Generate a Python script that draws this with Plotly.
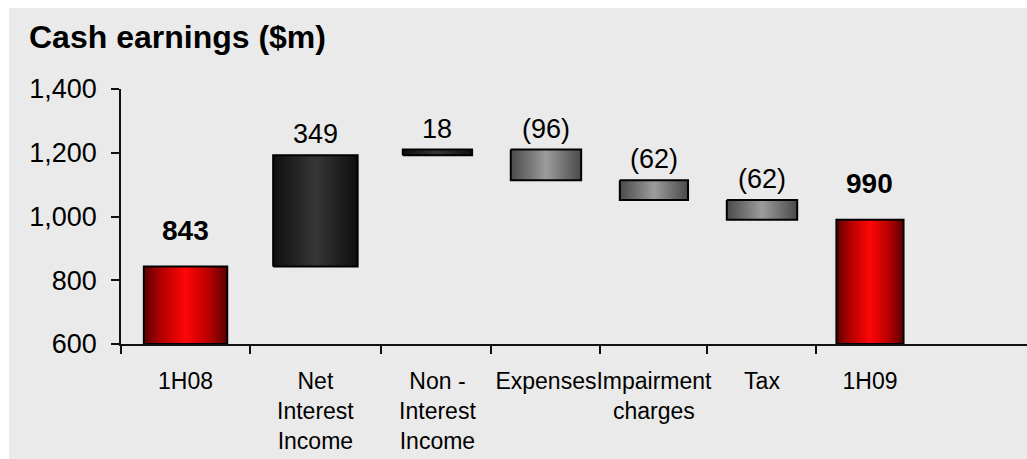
import plotly.graph_objects as go

# ---- data -------------------------------------------------------------
categories = ["1H08", "Net<br>Interest<br>Income", "Non -<br>Interest<br>Income",
              "Expenses", "Impairment<br>charges", "Tax", "1H09"]
start_value = 843
deltas = [349, 18, -96, -62, -62]
end_value = 990
y_ticks = [600, 800, 1000, 1200, 1400]

# ---- layout constants (axis units) ------------------------------------
slot_x = [0.596, 1.795, 2.922, 3.924, 4.921, 5.919, 6.916]
bar_w = [0.77, 0.78, 0.64, 0.65, 0.63, 0.65, 0.62]
boundaries = [0.0, 1.191, 2.401, 3.416, 4.423, 5.411, 6.417]
x_range = [0.0, 8.366]
y_floor = 600

FONT = "Liberation Sans, Arial, sans-serif"
RED = [[0, "#5c0000"], [0.22, "#b80000"], [0.5, "#ff0606"], [0.78, "#b80000"], [1, "#5c0000"]]
DARK = [[0, "#0e0e0e"], [0.5, "#363636"], [1, "#0e0e0e"]]
GREY = [[0, "#4a4a4a"], [0.5, "#9c9c9c"], [1, "#4a4a4a"]]

# bottoms / tops of every column, built from the values above
bottoms, tops, labels, bold, scales = [], [], [], [], []
bottoms.append(y_floor); tops.append(start_value)
labels.append(f"{start_value:,}"); bold.append(True); scales.append(RED)
level = start_value
for d in deltas:
    bottoms.append(level); tops.append(level + d)
    labels.append(f"{d:,}" if d >= 0 else f"({-d:,})")
    bold.append(False); scales.append(DARK if d >= 0 else GREY)
    level += d
bottoms.append(y_floor); tops.append(end_value)
labels.append(f"{end_value:,}"); bold.append(True); scales.append(RED)

fig = go.Figure()
for i in range(len(categories)):
    x0 = slot_x[i] - bar_w[i] / 2
    x1 = slot_x[i] + bar_w[i] / 2
    y0, y1 = bottoms[i], tops[i]
    fig.add_trace(go.Scatter(
        x=[x0, x1, x1, x0, x0], y=[y0, y0, y1, y1, y0],
        mode="lines", fill="toself",
        fillgradient=dict(type="horizontal", colorscale=scales[i]),
        line=dict(color="#000000", width=2),
        hoverinfo="skip", showlegend=False, cliponaxis=False,
    ))

# value labels above each column
for i in range(len(categories)):
    top = max(bottoms[i], tops[i])
    fig.add_annotation(
        x=slot_x[i], y=top, xref="x", yref="y",
        text=f"<b>{labels[i]}</b>" if bold[i] else labels[i],
        showarrow=False, yanchor="middle",
        yshift=36 if bold[i] else 21,
        font=dict(family=FONT, size=28 if bold[i] else 27, color="#000000"),
    )

# invisible trace so the label axis is drawn
fig.add_trace(go.Scatter(x=slot_x, y=[None] * len(slot_x), xaxis="x2",
                         mode="markers", showlegend=False, hoverinfo="skip"))

W, H = 1027, 459
ML, MR, MT, MB = 121, 0, 89, 115
pw, ph = W - ML - MR, H - MT - MB

fig.update_layout(
    template="none",
    width=W, height=H,
    margin=dict(l=ML, r=MR, t=MT, b=MB, pad=0),
    paper_bgcolor="#eaeaea", plot_bgcolor="#eaeaea",
    font=dict(family=FONT, color="#000000"),
    showlegend=False,
    title=dict(text="<b>Cash earnings ($m)</b>", xref="container", yref="container",
               x=29 / W, xanchor="left", y=1 - 37 / H, yanchor="middle",
               font=dict(family=FONT, size=32, color="#000000")),
    xaxis=dict(range=x_range, tickmode="array", tickvals=boundaries,
               ticktext=[""] * len(boundaries), ticks="outside", ticklen=8,
               tickwidth=1.5, tickcolor="#111111", showline=True, linewidth=1.5,
               linecolor="#111111", showgrid=False, zeroline=False,
               automargin=False, fixedrange=True),
    xaxis2=dict(range=x_range, overlaying="x", side="bottom", anchor="y",
                tickmode="array", tickvals=slot_x, ticktext=categories,
                tickangle=0, ticks="", showline=False, showgrid=False, zeroline=False,
                tickfont=dict(family=FONT, size=23, color="#000000"),
                ticklabelstandoff=21, automargin=False),
    yaxis=dict(range=[y_ticks[0], y_ticks[-1]], tickmode="array", tickvals=y_ticks,
               tickformat=",", ticks="outside", ticklen=8, tickwidth=1.5,
               tickcolor="#111111", showline=True, linewidth=1.5, linecolor="#111111",
               showgrid=False, zeroline=False, ticklabelstandoff=9,
               tickfont=dict(family=FONT, size=27, color="#000000"),
               automargin=False, fixedrange=True),
    shapes=[
        # white frame strips along the top and left edges of the page
        dict(type="rect", xref="paper", yref="paper", layer="below",
             x0=-ML / pw, x1=1, y0=1 + (MT - 8) / ph, y1=1 + MT / ph,
             fillcolor="#ffffff", line=dict(width=0)),
        dict(type="rect", xref="paper", yref="paper", layer="below",
             x0=-ML / pw, x1=(9 - ML) / pw, y0=-MB / ph, y1=1 + MT / ph,
             fillcolor="#ffffff", line=dict(width=0)),
    ],
)

fig.write_html("out.html")
